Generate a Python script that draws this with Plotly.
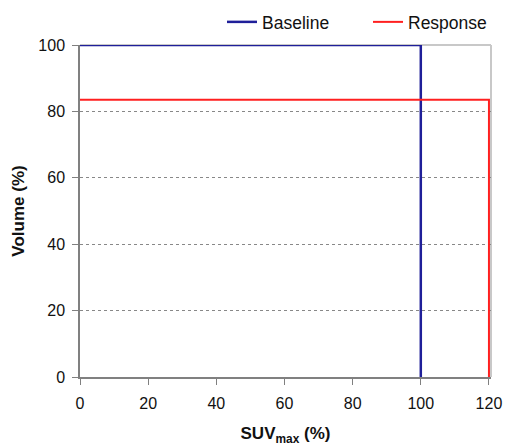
import plotly.graph_objects as go

baseline_x = [0, 100, 100]
baseline_y = [100, 100, 0]
response_x = [0, 120, 120]
response_y = [83.5, 83.5, 0]
x_ticks = [0, 20, 40, 60, 80, 100, 120]
y_ticks = [0, 20, 40, 60, 80, 100]

fig = go.Figure()
fig.add_trace(go.Scatter(x=baseline_x, y=baseline_y, mode="lines", name="Baseline",
                         line=dict(color="#1f1f99", width=2.5)))
fig.add_trace(go.Scatter(x=response_x, y=response_y, mode="lines", name="Response",
                         line=dict(color="#ff2020", width=2)))

fig.add_shape(type="line", xref="paper", yref="paper", x0=1, x1=1, y0=0, y1=1,
              line=dict(color="#c8c8c8", width=2), layer="below")
fig.add_shape(type="line", xref="paper", yref="paper", x0=0, x1=1, y0=1, y1=1,
              line=dict(color="#c8c8c8", width=2), layer="below")

fig.update_layout(
    width=506, height=446,
    margin=dict(l=80, r=15, t=45, b=69, autoexpand=False),
    paper_bgcolor="white", plot_bgcolor="white",
    font=dict(family="Liberation Sans, Arial, sans-serif", size=16, color="#111"),
    showlegend=True,
    legend=dict(orientation="h", x=(222 - 80) / 411, xanchor="left",
                y=1 + (45 - 22) / 332, yanchor="middle",
                font=dict(size=17.5), itemwidth=30, tracegroupgap=0,
                entrywidth=101, borderwidth=0, bgcolor="rgba(0,0,0,0)"),
    xaxis=dict(range=[0, 120.6], tickvals=x_ticks, showgrid=False, zeroline=False,
               showline=True, linecolor="#808080", linewidth=1.5,
               ticks="outside", ticklen=6, tickcolor="#808080",
               tickfont=dict(size=16), ticklabelstandoff=5,
               title=dict(text="<b>SUV<sub>max</sub> (%)</b>", font=dict(size=17), standoff=19)),
    yaxis=dict(range=[0, 100], tickvals=y_ticks, showgrid=True, gridcolor="#888",
               griddash="dot", gridwidth=1, zeroline=False,
               showline=True, linecolor="#808080", linewidth=1.5,
               ticks="outside", ticklen=6, tickcolor="#808080",
               tickfont=dict(size=16), ticklabelstandoff=4,
               title=dict(text="<b>Volume (%)</b>", font=dict(size=17), standoff=9)),
)

fig.write_html(
    "out.html",
    config={"displayModeBar": False},
    post_script="document.body.style.margin='0';document.body.style.overflow='hidden';",
)
